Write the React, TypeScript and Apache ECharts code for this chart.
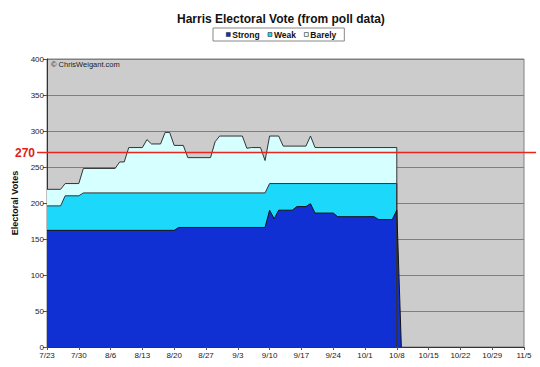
import React, { useEffect, useRef } from 'react';
import * as echarts from 'echarts';

// day index 0 = 7/23
const xTickLabels = ['7/23', '7/30', '8/6', '8/13', '8/20', '8/27', '9/3', '9/10', '9/17', '9/24', '10/1', '10/8', '10/15', '10/22', '10/29', '11/5'];

// cumulative totals (strong + weak + barely)
const barelyTotal: [number, number][] = [
  [0, 219], [3, 219], [4, 227], [7, 227], [8, 248], [15, 248], [16, 257], [17, 257], [18, 277],
  [21, 277], [22, 288], [23, 282], [25, 282], [26, 298], [27, 298], [28, 280], [30, 280], [31, 263],
  [36, 263], [37, 285], [38, 293], [43, 293], [44, 276], [45, 277], [47, 277], [48, 259], [49, 293],
  [51, 293], [52, 279], [57, 279], [58, 293], [59, 277], [77, 277], [77, 0],
];
// strong + weak
const weakTotal: [number, number][] = [
  [0, 196], [3, 196], [4, 210], [7, 210], [8, 214], [48, 214], [49, 227], [77, 227], [77, 0],
];
// strong
const strongValues: [number, number][] = [
  [0, 162], [28, 162], [29, 166], [48, 166], [49, 190], [50, 178], [51, 190], [54, 190], [55, 195],
  [57, 195], [58, 199], [59, 186], [63, 186], [64, 181], [72, 181], [73, 177], [76, 177], [77, 190], [78, 0],
];

const thresholdValue = 270;

export default function App() {
  const ref = useRef<HTMLDivElement>(null);
  useEffect(() => {
    const chart = echarts.init(ref.current!, null, { renderer: 'svg' });
    const font = '"Liberation Sans", Arial, Helvetica, sans-serif';
    const lineStyle = { color: '#333', width: 1 };
    chart.setOption({
      animation: false,
      backgroundColor: '#fff',
      title: {
        text: 'Harris Electoral Vote (from poll data)',
        left: 172,
        top: 8,
        textStyle: { fontFamily: font, fontSize: 12, fontWeight: 'bold', color: '#111' },
      },
      legend: {
        data: ['Strong', 'Weak', 'Barely'],
        left: 213,
        top: 28,
        icon: 'rect',
        itemWidth: 4,
        itemHeight: 4,
        itemGap: 8,
        padding: [2, 8, 2, 13],
        borderColor: '#888',
        borderWidth: 1,
        backgroundColor: '#fff',
        itemStyle: { borderColor: '#333', borderWidth: 0.6 },
        textStyle: { fontFamily: font, fontSize: 8.5, fontWeight: 'bold', color: '#111', padding: [0, 0, 0, -3] },
      },
      grid: {
        left: 47,
        right: 16,
        top: 59,
        bottom: 20,
        show: true,
        backgroundColor: '#cccccc',
        borderColor: '#808080',
        borderWidth: 1,
      },
      xAxis: {
        type: 'value',
        min: 0,
        max: 105,
        interval: 7,
        axisLine: { show: true, lineStyle: { color: '#333', width: 1 } },
        axisTick: { show: true, length: 3, lineStyle: { color: '#555' } },
        splitLine: { show: false },
        axisLabel: {
          fontFamily: font,
          fontSize: 8,
          color: '#222',
          margin: 4,
          formatter: (v: number) => xTickLabels[Math.round(v / 7)] ?? '',
        },
      },
      yAxis: {
        type: 'value',
        min: 0,
        max: 400,
        interval: 50,
        name: 'Electoral Votes',
        nameLocation: 'middle',
        nameGap: 21,
        nameTextStyle: { fontFamily: font, fontSize: 9, fontWeight: 'bold', color: '#111' },
        axisLine: { show: true, lineStyle: { color: '#333', width: 1 } },
        axisTick: { show: true, length: 4, lineStyle: { color: '#555' } },
        splitLine: { show: true, lineStyle: { color: '#7f7f7f', width: 1 } },
        axisLabel: { fontFamily: font, fontSize: 8, color: '#222', margin: 3 },
      },
      series: [
        {
          name: 'Barely',
          type: 'line',
          data: barelyTotal,
          symbol: 'none',
          lineStyle,
          itemStyle: { color: '#d6ffff' },
          areaStyle: { color: '#d6ffff', opacity: 1 },
        },
        {
          name: 'Weak',
          type: 'line',
          data: weakTotal,
          symbol: 'none',
          lineStyle,
          itemStyle: { color: '#1cd8fa' },
          areaStyle: { color: '#1cd8fa', opacity: 1 },
        },
        {
          name: 'Strong',
          type: 'line',
          data: strongValues,
          symbol: 'none',
          lineStyle: { color: '#111', width: 1 },
          itemStyle: { color: '#1130d4' },
          areaStyle: { color: '#1130d4', opacity: 1 },
        },
      ],
    });
    const y270 = chart.convertToPixel({ yAxisIndex: 0 }, thresholdValue) as number;
    chart.setOption({
      graphic: [
        {
          type: 'line',
          shape: { x1: 37, y1: y270, x2: 536, y2: y270 },
          style: { stroke: '#e8261e', lineWidth: 1.5 },
          z: 100,
        },
        {
          type: 'text',
          x: 35,
          y: y270,
          style: {
            text: String(thresholdValue),
            align: 'right',
            verticalAlign: 'middle',
            fill: '#e0201a',
            font: `bold 12px ${font}`,
          },
          z: 100,
        },
        {
          type: 'text',
          x: 51,
          y: 64,
          style: {
            text: '© ChrisWeigant.com',
            align: 'left',
            verticalAlign: 'middle',
            fill: '#222',
            font: `7.5px ${font}`,
          },
          z: 100,
        },
      ],
    });
    return () => chart.dispose();
  }, []);
  return <div ref={ref} style={{ position: 'absolute', left: 0, top: 0, width: 540, height: 367 }} />;
}
